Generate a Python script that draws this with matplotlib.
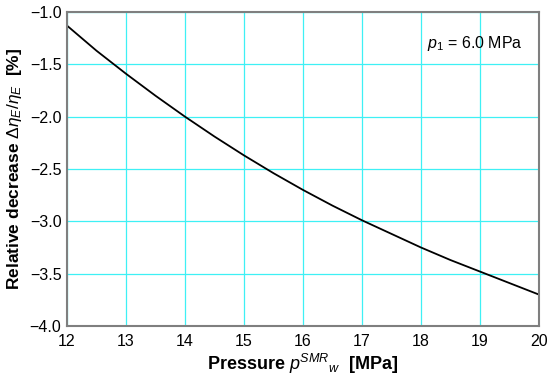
import matplotlib
matplotlib.use("Agg")
from matplotlib import pyplot as plt
import numpy as np

plt.rcParams['font.family'] = ['Liberation Sans', 'DejaVu Sans']
plt.rcParams['mathtext.fontset'] = 'custom'
plt.rcParams['mathtext.it'] = 'Liberation Sans:italic'
plt.rcParams['mathtext.rm'] = 'Liberation Sans'
plt.rcParams['mathtext.bf'] = 'Liberation Sans:bold'

pressure = [12, 12.5, 13, 13.5, 14, 14.5, 15, 15.5, 16, 16.5, 17, 17.5, 18, 18.5, 19, 19.5, 20]
decrease = [-1.13, -1.37, -1.59, -1.80, -2.00, -2.19, -2.37, -2.54, -2.70, -2.85, -2.99, -3.12, -3.25, -3.37, -3.48, -3.59, -3.70]

fig = plt.figure(figsize=(5.5, 3.83), dpi=100)
ax = fig.add_axes([67 / 550, 1 - 326 / 383, (539 - 67) / 550, (326 - 12) / 383])

ax.plot(pressure, decrease, color='black', lw=1.3)
ax.set_xlim(12, 20)
ax.set_ylim(-4.0, -1.0)
ax.set_xticks(np.arange(12, 21, 1))
ax.set_yticks(np.arange(-4.0, -0.99, 0.5))
ax.set_yticklabels([f"{v:.1f}".replace('-', '\u2212') for v in np.arange(-4.0, -0.99, 0.5)])
ax.grid(True, color='#3ef0f5', lw=0.9)
ax.tick_params(axis='x', length=0, labelsize=11.5, pad=6)
ax.tick_params(axis='y', length=0, labelsize=11.5, pad=4)
for s in ax.spines.values():
    s.set_color('#7f7f7f')
    s.set_linewidth(1.5)

ax.set_xlabel(r'Pressure $p^{SMR}{}_{w}$  [MPa]', fontsize=13, fontweight='bold', labelpad=2)
ax.set_ylabel(r'Relative decrease $\Delta\eta_{E}/\eta_{E}$  [%]', fontsize=12.5, fontweight='bold', labelpad=4)
ax.text(0.965, 0.9, r'$p_1$ = 6.0 MPa', transform=ax.transAxes, ha='right', va='center', fontsize=11.5)

fig.savefig('out.png', dpi=100)
